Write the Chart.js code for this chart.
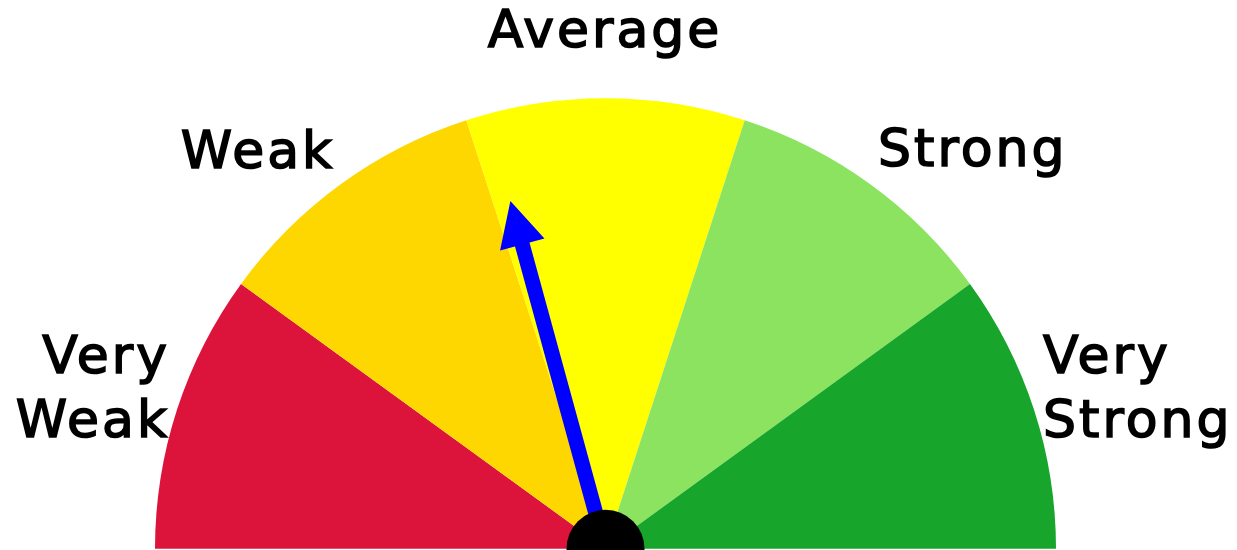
<!DOCTYPE html>
<html>
<head>
<meta charset="utf-8">
<script src="https://cdn.jsdelivr.net/npm/chart.js@4"></script>
<style>
  html, body { margin: 0; padding: 0; background: #fff; }
  #wrap { width: 1237px; height: 550px; position: relative; }
</style>
</head>
<body>
<div id="wrap"><canvas id="gauge"></canvas></div>
<script>
// categories and values
var categories = ['Very Weak', 'Weak', 'Average', 'Strong', 'Very Strong'];
var bandValues = [20, 20, 20, 20, 20];
var needleValue = 41.5;
var bandColors = ['#DC143C', '#FFD700', '#FFFF00', '#8BE35F', '#17A52B'];

// where the words go (baseline of first line), alignment
var labelSpots = [
  { x: 170, y: 373, align: 'right' },
  { x: 258, y: 168, align: 'center' },
  { x: 605, y: 47, align: 'center' },
  { x: 878, y: 166, align: 'left' },
  { x: 1043, y: 373, align: 'left' }
];

var gaugeBits = {
  id: 'gaugeBits',
  afterDatasetsDraw: function(chart) {
    var ctx = chart.ctx;
    var arc = chart.getDatasetMeta(0).data[0];
    var cx = arc.x, cy = arc.y, R = arc.outerRadius;
    var total = bandValues.reduce(function(a, b) { return a + b; }, 0);
    var a = Math.PI + (needleValue / total) * Math.PI;
    var len = R * 0.8;
    var head = 45, half = 23;
    var ux = Math.cos(a), uy = Math.sin(a);
    var tipX = cx + ux * len, tipY = cy + uy * len;
    var bx = cx + ux * (len - head), by = cy + uy * (len - head);

    ctx.save();
    // shaft
    ctx.strokeStyle = '#0000FF';
    ctx.lineWidth = 15;
    ctx.beginPath();
    ctx.moveTo(cx, cy);
    ctx.lineTo(cx + ux * (len - head + 4), cy + uy * (len - head + 4));
    ctx.stroke();
    // arrow head
    ctx.fillStyle = '#0000FF';
    ctx.beginPath();
    ctx.moveTo(tipX, tipY);
    ctx.lineTo(bx - uy * half, by + ux * half);
    ctx.lineTo(bx + uy * half, by - ux * half);
    ctx.closePath();
    ctx.fill();
    // hub
    ctx.fillStyle = '#000';
    ctx.beginPath();
    ctx.arc(cx, cy, 39, 0, Math.PI * 2);
    ctx.fill();
    ctx.restore();
  },
  afterDraw: function(chart) {
    var ctx = chart.ctx;
    ctx.save();
    ctx.fillStyle = '#000';
    ctx.strokeStyle = '#000';
    ctx.lineWidth = 1.6;
    ctx.font = '52px "DejaVu Sans"';
    ctx.letterSpacing = '3px';
    ctx.textBaseline = 'alphabetic';
    categories.forEach(function(name, i) {
      var spot = labelSpots[i];
      var lines = name.indexOf('Very') === 0 ? ['Very', name.slice(5)] : [name];
      ctx.textAlign = spot.align;
      lines.forEach(function(line, j) {
        ctx.fillText(line, spot.x, spot.y + j * 64);
        ctx.strokeText(line, spot.x, spot.y + j * 64);
      });
    });
    ctx.restore();
  }
};

new Chart(document.getElementById('gauge'), {
  type: 'doughnut',
  data: {
    labels: categories,
    datasets: [{
      data: bandValues,
      backgroundColor: bandColors,
      borderWidth: 0
    }]
  },
  options: {
    responsive: true,
    maintainAspectRatio: false,
    animation: false,
    rotation: -90,
    circumference: 180,
    cutout: 0,
    layout: { padding: { left: 155, right: 181, top: 98, bottom: 1 } },
    plugins: {
      legend: { display: false },
      tooltip: { enabled: false }
    }
  },
  plugins: [gaugeBits]
});
</script>
</body>
</html>
